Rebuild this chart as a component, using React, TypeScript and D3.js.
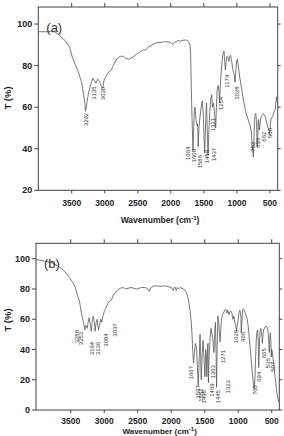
import React from "react";
import * as d3 from "d3";

// ---- panel (a) spectrum ----
const specAWave = [4005, 3760, 3700, 3600, 3530, 3500, 3440, 3400, 3350, 3320, 3300, 3292, 3280, 3250, 3220, 3180, 3160, 3135, 3110, 3080, 3050, 3030, 3010, 2980, 2950, 2900, 2870, 2840, 2810, 2760, 2720, 2680, 2630, 2580, 2520, 2460, 2420, 2380, 2340, 2280, 2220, 2150, 2080, 2000, 1970, 1950, 1900, 1850, 1800, 1760, 1730, 1710, 1700, 1690, 1680, 1670, 1664, 1655, 1645, 1635, 1625, 1615, 1600, 1595, 1590, 1586, 1575, 1560, 1540, 1525, 1510, 1500, 1489, 1480, 1470, 1460, 1450, 1437, 1425, 1410, 1395, 1380, 1370, 1355, 1340, 1321, 1310, 1300, 1290, 1280, 1270, 1264, 1255, 1240, 1225, 1210, 1195, 1185, 1174, 1165, 1150, 1140, 1120, 1110, 1095, 1080, 1060, 1045, 1028, 1015, 1005, 995, 980, 960, 940, 920, 900, 880, 860, 840, 820, 800, 780, 770, 760, 752, 745, 735, 725, 715, 705, 695, 693, 685, 675, 668, 662, 650, 640, 625, 610, 595, 580, 570, 560, 545, 530, 515, 506, 495, 485, 470, 455, 440, 420, 410, 400, 385];
const specAT = [96.3, 96.3, 95, 92, 89, 85, 80, 77, 72, 66, 62, 58, 60, 66, 70, 74, 73, 71.5, 73.5, 72.5, 70, 69, 73, 75, 76.5, 78, 80, 82, 83.5, 84.5, 84.5, 83.5, 83, 84, 85.5, 86.8, 87.5, 87.5, 89, 90, 91, 91.2, 91.5, 91.2, 90.2, 91, 92, 91.8, 92.3, 92.2, 91.5, 90, 85, 70, 55, 45, 39, 50, 58, 60, 56, 53, 51, 52, 48, 41, 50, 55, 60, 63, 58, 48, 38, 45, 55, 62, 50, 37, 48, 58, 64, 66, 60, 62, 58, 50, 60, 68, 70, 70.5, 67, 62, 68, 76, 82, 86, 87, 82, 78, 82, 84.5, 84, 82, 84.5, 85, 82, 78, 76, 72, 78, 82, 83, 80, 75, 71, 67, 63, 60, 57, 55, 53, 51, 48, 42, 39, 36, 42, 52, 56.5, 57, 54, 44, 41, 46, 54, 53, 49, 52, 54.5, 56, 56.8, 56.8, 56, 55, 54, 52, 50, 49, 47, 51, 54, 55, 56, 57.5, 59, 63, 65, 62];

const labelAText = ["3292", "3135", "3030", "1664", "1600", "1586", "1489", "1437", "1321", "1264", "1174", "1028", "752", "693", "662", "506"];
const labelAPos = [3292, 3158, 3026, 1740, 1650, 1559, 1453, 1347, 1362, 1249, 1150, 999, 757, 681, 591, 500];
const labelATop = [57.3, 70, 69.8, 41, 39.9, 37, 39.4, 40.4, 54.8, 65, 75.6, 70, 43.4, 45.2, 48.2, 50];

// ---- panel (b) spectrum ----
const specBWave = [4018, 3900, 3800, 3700, 3620, 3560, 3520, 3480, 3440, 3400, 3370, 3340, 3310, 3288, 3275, 3253, 3240, 3225, 3210, 3194, 3180, 3165, 3150, 3136, 3120, 3105, 3095, 3084, 3070, 3050, 3037, 3020, 3000, 2980, 2960, 2940, 2900, 2880, 2860, 2840, 2800, 2760, 2720, 2680, 2640, 2600, 2560, 2520, 2480, 2440, 2400, 2360, 2330, 2300, 2260, 2200, 2150, 2100, 2050, 2000, 1970, 1955, 1940, 1925, 1910, 1890, 1870, 1850, 1820, 1790, 1760, 1740, 1720, 1710, 1700, 1690, 1680, 1667, 1655, 1640, 1625, 1610, 1597, 1585, 1570, 1560, 1552, 1540, 1525, 1515, 1498, 1485, 1475, 1469, 1458, 1452, 1445, 1435, 1420, 1405, 1390, 1375, 1363, 1352, 1340, 1330, 1323, 1315, 1305, 1295, 1285, 1271, 1262, 1250, 1235, 1220, 1200, 1185, 1170, 1155, 1140, 1125, 1110, 1095, 1080, 1065, 1050, 1035, 1026, 1015, 1000, 990, 975, 960, 955, 945, 935, 925, 910, 895, 880, 865, 850, 830, 810, 790, 775, 760, 750, 740, 730, 720, 710, 700, 694, 685, 675, 665, 655, 645, 640, 630, 620, 600, 585, 570, 560, 550, 536, 528, 520, 512, 507, 500, 490, 470, 450, 430, 415, 400, 387];
const specBT = [99.5, 98.5, 97.5, 95.5, 93, 90, 87.5, 85, 82, 76, 72, 64, 58, 53, 56, 54, 58, 61, 57, 52, 58, 62, 59, 52, 58, 60, 56, 53, 56, 60, 58, 62, 65, 67, 69, 71, 72.5, 74, 76, 77.5, 79, 80.5, 81, 80, 80.5, 81, 80.5, 80, 80.5, 81, 81, 80.5, 78.5, 81, 82, 82, 81.8, 82, 81.5, 81, 79, 81, 81, 79, 81, 80, 81, 80.5, 80, 79, 76, 72, 66, 62, 58, 50, 40, 31, 38, 44, 42, 30, 16, 30, 50, 35, 20, 35, 46, 38, 22, 40, 35, 22, 40, 44, 18, 35, 48, 54, 50, 45, 38, 50, 58, 36, 15, 40, 62, 60, 54, 45, 52, 60, 63, 64, 66, 66.5, 64, 66, 63, 65, 65.5, 64, 60, 62, 58, 55, 52, 56, 60, 64, 66, 62, 51, 58, 66, 67, 66, 64, 62, 60, 55, 45, 35, 25, 18, 14, 22, 35, 47, 52, 53, 45, 28, 42, 52, 54, 52, 48, 44, 50, 53, 55, 55.5, 55, 53, 50, 38, 48, 51, 45, 35, 40, 38, 30, 22, 14, 9, 6, 5];

const labelBText = ["3288", "3253", "3194", "3136", "3084", "3037", "1667", "1597", "1552", "1498", "1469", "1363", "1445", "1323", "1271", "1026", "966", "760", "694", "665", "536", "507"];
const labelBPos = [3411, 3346, 3187, 3088, 2973, 2839, 1705, 1605, 1555, 1511, 1396, 1372, 1297, 1148, 1222, 1033, 924, 749, 685, 611, 551, 476];
const labelBTop = [52.9, 51.7, 45.1, 45.1, 50.7, 57.3, 29.1, 16.5, 14.3, 13.2, 17.6, 29.7, 13.2, 19.8, 39.7, 53, 51.7, 16.5, 25.3, 40.8, 34.2, 31.9];

const xTicks = [3500, 3000, 2500, 2000, 1500, 1000, 500];
const yTicksA = [20, 40, 60, 80, 100];
const yTicksB = [0, 20, 40, 60, 80, 100];

const ink = "#444";
const font = "Liberation Sans, Arial, sans-serif";

const Panel = ({ left, right, top, bottom, xDomain, yDomain, yTicks, waves, ts, lText, lPos, lTop, tag, yTitleY, xTickY, xTitleY, xTitleSize }) => {
  const x = d3.scaleLinear().domain(xDomain).range([left, right]);
  const y = d3.scaleLinear().domain(yDomain).range([bottom, top]);
  const line = d3
    .line()
    .x((d) => x(d[0]))
    .y((d) => y(d[1]));
  const pts = waves.map((w, i) => [w, ts[i]]);

  return (
    <g>
      <rect x={left} y={top} width={right - left} height={bottom - top} fill="none" stroke={ink} strokeWidth={1} />
      <path d={line(pts)} fill="none" stroke="#555" strokeWidth={0.8} strokeLinejoin="round" />
      {xTicks.map((t) => (
        <g key={"x" + t}>
          <line x1={x(t)} x2={x(t)} y1={bottom} y2={bottom + 3} stroke={ink} />
          <line x1={x(t)} x2={x(t)} y1={top} y2={top - 4} stroke={ink} />
          <text x={x(t)} y={xTickY} textAnchor="middle" fontSize={8.5} fontWeight="bold" fill="#222" fontFamily={font}>
            {t}
          </text>
        </g>
      ))}
      {yTicks.map((t) => (
        <g key={"y" + t}>
          <line x1={left - 4} x2={left} y1={y(t)} y2={y(t)} stroke={ink} />
          <line x1={right} x2={right + 3} y1={y(t)} y2={y(t)} stroke={ink} />
          <text x={left - 6} y={y(t)} dy="0.35em" textAnchor="end" fontSize={9} fontWeight="bold" fill="#222" fontFamily={font}>
            {t}
          </text>
        </g>
      ))}
      {lText.map((s, i) => (
        <text
          key={s + i}
          transform={`translate(${x(lPos[i])},${y(lTop[i])}) rotate(-90)`}
          dy="0.35em"
          textAnchor="end"
          fontSize={6}
          fill="#333"
          fontFamily={font}
        >
          {s}
        </text>
      ))}
      <text x={left + 8} y={top + 25} fontSize={13} fill="#333" fontFamily={font}>
        {tag}
      </text>
      <text x={(left + right) / 2 + 2} y={xTitleY} textAnchor="middle" fontSize={xTitleSize} fontWeight="bold" fill="#222" fontFamily={font}>
        Wavenumber (cm<tspan dy={-3} fontSize={6}>-1</tspan>
        <tspan dy={3}>)</tspan>
      </text>
      <text transform={`translate(11,${yTitleY}) rotate(-90)`} textAnchor="middle" fontSize={9.5} fontWeight="bold" fill="#222" fontFamily={font}>
        T (%)
      </text>
    </g>
  );
};

export default function App() {
  return (
    <svg width={284} height={436} style={{ position: "absolute", left: 0, top: 0, background: "white" }}>
      <Panel
        left={38.3}
        right={277.7}
        top={7}
        bottom={190.3}
        xDomain={[4005, 383]}
        yDomain={[20, 108.2]}
        yTicks={yTicksA}
        waves={specAWave}
        ts={specAT}
        lText={labelAText}
        lPos={labelAPos}
        lTop={labelATop}
        tag="(a)"
        yTitleY={98}
        xTickY={205.8}
        xTitleY={223}
        xTitleSize={8.5}
      />
      <Panel
        left={36}
        right={279.3}
        top={243.3}
        bottom={410}
        xDomain={[4018, 387]}
        yDomain={[0, 110.2]}
        yTicks={yTicksB}
        waves={specBWave}
        ts={specBT}
        lText={labelBText}
        lPos={labelBPos}
        lTop={labelBTop}
        tag="(b)"
        yTitleY={320}
        xTickY={424}
        xTitleY={434}
        xTitleSize={8}
      />
    </svg>
  );
}
